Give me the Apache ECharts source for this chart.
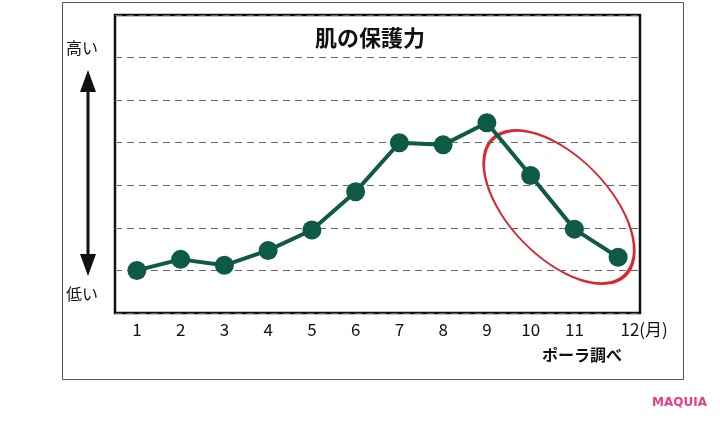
<!DOCTYPE html>
<html>
<head>
<meta charset="utf-8">
<script src="https://cdn.jsdelivr.net/npm/echarts@6/dist/echarts.min.js"></script>
<style>
html,body{margin:0;padding:0;background:#fff;}
#chart{width:720px;height:422px;}
</style>
</head>
<body>
<div id="chart"></div>
<script>
var months = ['1','2','3','4','5','6','7','8','9','10','11','12(月)'];
var protection = [0, 0.26, 0.12, 0.47, 0.95, 1.85, 3.0, 2.95, 3.47, 2.23, 0.97, 0.31];

var myChart = echarts.init(document.getElementById('chart'));
var green = '#0e5a46';
var jp = '"Noto Sans CJK JP", sans-serif';

var option = {
    animation: false,
    grid: {
        left: 115, right: 80, top: 15, bottom: 109,
        show: true, borderColor: '#111', borderWidth: 2.5
    },
    xAxis: {
        type: 'category',
        data: months,
        boundaryGap: true,
        axisLine: {show: false},
        axisTick: {show: false},
        axisLabel: {
            interval: 0,
            color: '#111', fontSize: 17, fontFamily: jp, margin: 8,
            formatter: function (v, i) {
                return i === months.length - 1 ? '{last|' + v + '}' : v;
            },
            rich: {
                last: {fontSize: 17, fontFamily: jp, color: '#111', padding: [0, 0, 0, 52]}
            }
        }
    },
    yAxis: {
        type: 'value',
        min: -1, max: 6, interval: 1,
        axisLine: {show: false},
        axisTick: {show: false},
        axisLabel: {show: false},
        splitLine: {lineStyle: {type: [7, 5], color: '#666', width: 1}}
    },
    series: [{
        type: 'line',
        data: protection,
        symbol: 'circle',
        symbolSize: 19,
        lineStyle: {color: green, width: 4},
        itemStyle: {color: green}
    }],
    graphic: [
        {type: 'rect', shape: {x: 62.5, y: 2.5, width: 621, height: 377},
         style: {fill: 'none', stroke: '#555', lineWidth: 1}},
        {type: 'text', x: 370, y: 27,
         style: {text: '肌の保護力', font: 'bold 22px ' + jp, fill: '#111', align: 'center'}},
        {type: 'text', x: 542, y: 347,
         style: {text: 'ポーラ調べ', font: 'bold 16px ' + jp, fill: '#111'}},
        {type: 'text', x: 66, y: 40,
         style: {text: '高い', font: '16px ' + jp, fill: '#111'}},
        {type: 'text', x: 66, y: 286,
         style: {text: '低い', font: '16px ' + jp, fill: '#111'}},
        {type: 'line', shape: {x1: 88, y1: 85, x2: 88, y2: 258},
         style: {stroke: '#111', lineWidth: 3}},
        {type: 'polygon', shape: {points: [[88, 70], [80, 92], [96, 92]]},
         style: {fill: '#111'}},
        {type: 'polygon', shape: {points: [[88, 276], [80, 254], [96, 254]]},
         style: {fill: '#111'}},
        {type: 'circle', x: 559, y: 207, rotation: -0.8, scaleX: 1.9, scaleY: 1,
         shape: {cx: 0, cy: 0, r: 50},
         style: {fill: 'none', stroke: '#d9272e', lineWidth: 2.5, strokeNoScale: true}},
        {type: 'text', x: 652, y: 397,
         style: {text: 'MAQUIA', font: 'bold 12px "DejaVu Sans", sans-serif', fill: '#e8407f'}}
    ]
};
myChart.setOption(option);
</script>
</body>
</html>
